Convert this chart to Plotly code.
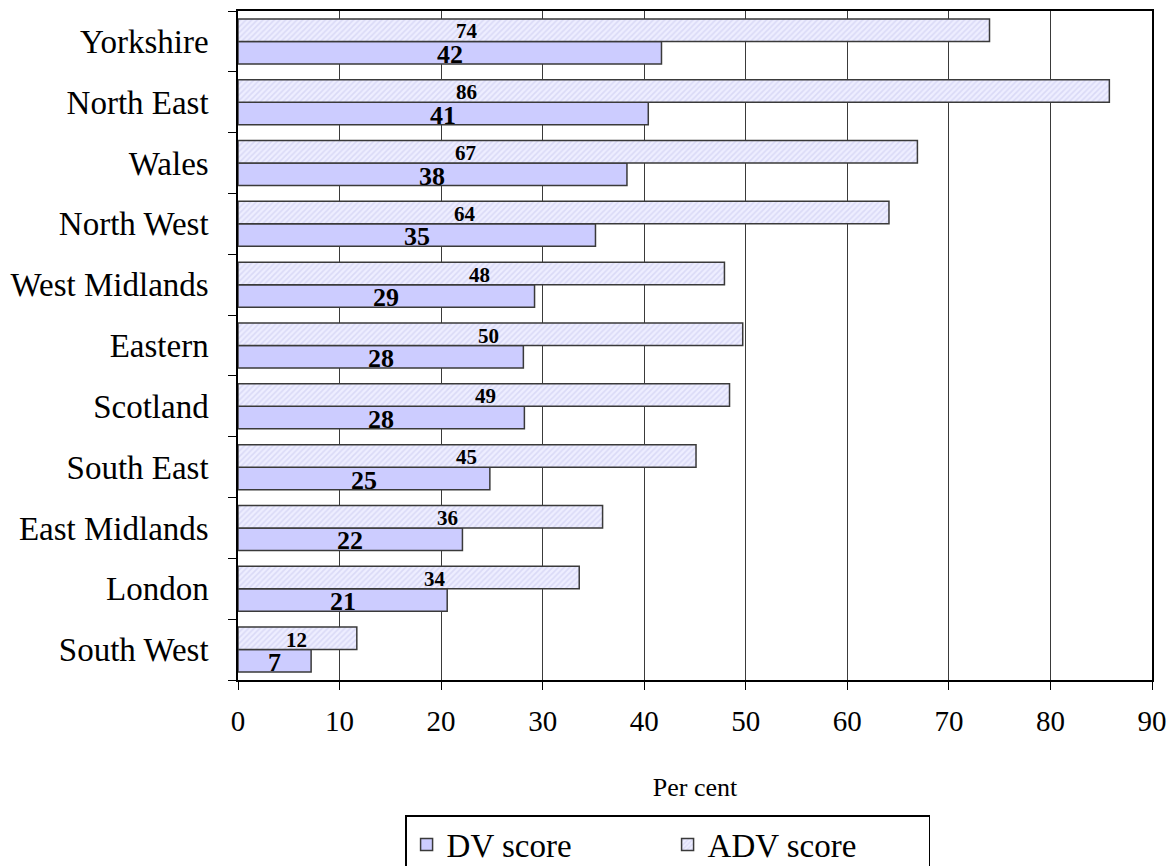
import plotly.graph_objects as go

regions = ["Yorkshire", "North East", "Wales", "North West", "West Midlands",
           "Eastern", "Scotland", "South East", "East Midlands", "London", "South West"]
dv_score = [41.7, 40.4, 38.3, 35.2, 29.2, 28.1, 28.2, 24.8, 22.1, 20.6, 7.2]
adv_score = [74.0, 85.8, 66.9, 64.1, 47.9, 49.7, 48.4, 45.1, 35.9, 33.6, 11.7]
dv_labels = ["42", "41", "38", "35", "29", "28", "28", "25", "22", "21", "7"]
adv_labels = ["74", "86", "67", "64", "48", "50", "49", "45", "36", "34", "12"]
# where the spreadsheet put the ADV value labels (in per cent units)
adv_label_at = [22.5, 22.5, 22.4, 22.4, 23.8, 24.7, 24.4, 22.5, 20.6, 19.4, 5.8]
x_ticks = [0, 10, 20, 30, 40, 50, 60, 70, 80, 90]

FONT = "Liberation Serif, Times New Roman, serif"
DV_FILL = "#CCCCFF"
OUTLINE = "#3a3a3a"

fig = go.Figure()
fig.add_trace(go.Bar(
    y=regions, x=dv_score, orientation="h", name="DV score",
    marker=dict(color=DV_FILL, line=dict(color=OUTLINE, width=1.5)),
    hoverinfo="x+y",
))
fig.add_trace(go.Bar(
    y=regions, x=adv_score, orientation="h", name="ADV score",
    marker=dict(color="#EEEEFF", line=dict(color=OUTLINE, width=1.5),
                pattern=dict(shape="/", fgcolor="#C6C6EE", bgcolor="#EEEEFF",
                             size=4, solidity=0.4)),
    hoverinfo="x+y",
))

annotations = []
for reg, v, lab in zip(regions, dv_score, dv_labels):
    annotations.append(dict(x=v / 2, y=reg, xref="x", yref="y", text=f"<b>{lab}</b>",
                            showarrow=False, yshift=-13,
                            font=dict(family=FONT, size=26, color="black")))
for reg, xp, lab in zip(regions, adv_label_at, adv_labels):
    annotations.append(dict(x=xp, y=reg, xref="x", yref="y", text=f"<b>{lab}</b>",
                            showarrow=False, yshift=10,
                            font=dict(family=FONT, size=21, color="black")))

fig.update_layout(
    width=1168, height=858,
    margin=dict(l=230, r=24, t=3, b=186, autoexpand=False),
    paper_bgcolor="white", plot_bgcolor="white",
    barmode="group", bargap=0.26, bargroupgap=0,
    font=dict(family=FONT, size=30, color="black"),
    showlegend=True,
    legend=dict(orientation="h", x=0.47, xanchor="center", y=-0.202, yanchor="top",
                bordercolor="black", borderwidth=1.5, bgcolor="white",
                font=dict(family=FONT, size=33), traceorder="normal",
                itemwidth=30, entrywidthmode="pixels", entrywidth=216),
    annotations=annotations,
)
fig.update_xaxes(
    range=[0, 90], tickvals=x_ticks, ticktext=[str(t) for t in x_ticks],
    showgrid=True, gridcolor="#3a3a3a", gridwidth=1.2,
    showline=True, linecolor="black", linewidth=1.5, mirror=True,
    ticks="outside", ticklen=8, tickcolor="black",
    tickfont=dict(family=FONT, size=29), ticklabelstandoff=6,
    title=dict(text="Per cent", font=dict(family=FONT, size=26), standoff=42),
    zeroline=False,
)
fig.update_yaxes(
    type="category", categoryorder="array", categoryarray=regions[::-1],
    tickson="boundaries", ticks="outside", ticklen=8, tickcolor="black",
    showgrid=False, showline=True, linecolor="black", linewidth=1.5, mirror=True,
    tickfont=dict(family=FONT, size=33), ticklabelstandoff=21,
)

fig.write_html("out.html")
